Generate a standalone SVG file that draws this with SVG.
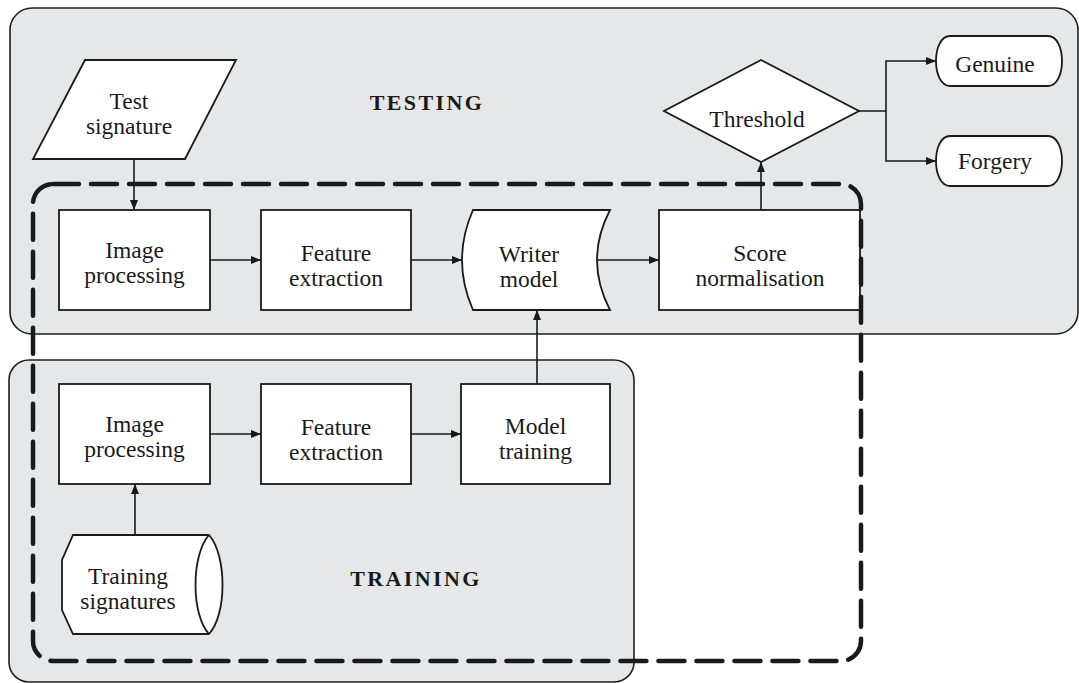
<svg xmlns="http://www.w3.org/2000/svg" width="1079" height="683" viewBox="0 0 1079 683">
  <defs>
    <marker id="arrow" viewBox="0 0 10 8" refX="10" refY="4" markerWidth="10" markerHeight="8" markerUnits="userSpaceOnUse" orient="auto">
      <path d="M0,0 L10,4 L0,8 Z" fill="#1a1a1a"/>
    </marker>
    <style>
      .panel { fill: #e6e7e9; stroke: #1f1f1f; stroke-width: 1.6; }
      .node { fill: #ffffff; stroke: #1a1a1a; stroke-width: 1.8; }
      .label { font-family: "Liberation Serif", "Times New Roman", serif; font-size: 23.5px; fill: #1a1a1a; text-anchor: middle; }
      .title { font-family: "Liberation Serif", "Times New Roman", serif; font-size: 22px; font-weight: bold; letter-spacing: 2.4px; fill: #1a1a1a; text-anchor: middle; }
      .edge { fill: none; stroke: #1a1a1a; stroke-width: 1.6; }
      .scope { fill: none; stroke: #1a1a1a; stroke-width: 4.5; stroke-dasharray: 26 12; stroke-linecap: round; }
    </style>
  </defs>

  <!-- Background phases -->
  <g id="testing-panel">
    <rect class="panel" x="10" y="8" width="1068" height="326" rx="22" ry="22"/>
    <text class="title" x="427" y="110">TESTING</text>
  </g>
  <g id="training-panel">
    <rect class="panel" x="9" y="360" width="625" height="322" rx="20" ry="20"/>
    <text class="title" x="416" y="586">TRAINING</text>
  </g>

  <!-- Testing nodes -->
  <g id="test-signature">
    <polygon class="node" points="85,60 236,60 185,159 33,159"/>
    <text class="label" x="129" y="109">Test</text>
    <text class="label" x="129" y="134">signature</text>
  </g>
  <g id="test-image-processing">
    <rect class="node" x="59" y="210" width="151" height="100"/>
    <text class="label" x="134.5" y="258">Image</text>
    <text class="label" x="134.5" y="283">processing</text>
  </g>
  <g id="test-feature-extraction">
    <rect class="node" x="261" y="210" width="150" height="100"/>
    <text class="label" x="336" y="261">Feature</text>
    <text class="label" x="336" y="286">extraction</text>
  </g>
  <g id="writer-model">
    <path class="node" d="M473,210 L610,210 Q584,260 610,310 L473,310 Q451,260 473,210 Z"/>
    <text class="label" x="529" y="262">Writer</text>
    <text class="label" x="529" y="287">model</text>
  </g>
  <g id="score-normalisation">
    <rect class="node" x="659" y="210" width="201" height="100"/>
    <text class="label" x="760" y="261">Score</text>
    <text class="label" x="760" y="286">normalisation</text>
  </g>
  <g id="threshold">
    <polygon class="node" points="761,60 859,111 761,162 664,111"/>
    <text class="label" x="757" y="127">Threshold</text>
  </g>
  <g id="genuine">
    <path class="node" d="M950,36 H1048 C1057,36 1062,48 1062,61 C1062,74 1057,86 1048,86 H950 C941,86 936,74 936,61 C936,48 941,36 950,36 Z"/>
    <text class="label" x="995" y="72">Genuine</text>
  </g>
  <g id="forgery">
    <path class="node" d="M950,136 H1048 C1057,136 1062,148 1062,161 C1062,174 1057,186 1048,186 H950 C941,186 936,174 936,161 C936,148 941,136 950,136 Z"/>
    <text class="label" x="995" y="169">Forgery</text>
  </g>

  <!-- Training nodes -->
  <g id="train-image-processing">
    <rect class="node" x="59" y="384" width="151" height="100"/>
    <text class="label" x="134.5" y="432">Image</text>
    <text class="label" x="134.5" y="457">processing</text>
  </g>
  <g id="train-feature-extraction">
    <rect class="node" x="261" y="384" width="150" height="100"/>
    <text class="label" x="336" y="435">Feature</text>
    <text class="label" x="336" y="460">extraction</text>
  </g>
  <g id="model-training">
    <rect class="node" x="461" y="384" width="149" height="100"/>
    <text class="label" x="535.5" y="434">Model</text>
    <text class="label" x="535.5" y="459">training</text>
  </g>
  <g id="training-signatures">
    <path class="node" d="M73,535 L209,535 C227,555 227,615 209,634 L73,634 L62,610 L62,560 Z"/>
    <path class="node" d="M209,535 C191,555 191,615 209,634" fill="none"/>
    <text class="label" x="128" y="584">Training</text>
    <text class="label" x="128" y="609">signatures</text>
  </g>

  <!-- Connectors -->
  <g id="connectors">
    <path class="edge" d="M134,159 V210" marker-end="url(#arrow)"/>
    <path class="edge" d="M210,260 H261" marker-end="url(#arrow)"/>
    <path class="edge" d="M411,260 H462" marker-end="url(#arrow)"/>
    <path class="edge" d="M597,260 H659" marker-end="url(#arrow)"/>
    <path class="edge" d="M761,210 V162" marker-end="url(#arrow)"/>
    <path class="edge" d="M859,111 H886 V61 H936" marker-end="url(#arrow)"/>
    <path class="edge" d="M886,111 V161 H936" marker-end="url(#arrow)"/>
    <path class="edge" d="M537,384 V310" marker-end="url(#arrow)"/>
    <path class="edge" d="M210,434 H261" marker-end="url(#arrow)"/>
    <path class="edge" d="M411,434 H461" marker-end="url(#arrow)"/>
    <path class="edge" d="M135,535 V484" marker-end="url(#arrow)"/>
  </g>

  <!-- Dashed boundary around the shared processing chain -->
  <g id="shared-scope">
    <rect class="scope" x="33" y="184" width="828" height="477" rx="20" ry="20"/>
  </g>
</svg>
